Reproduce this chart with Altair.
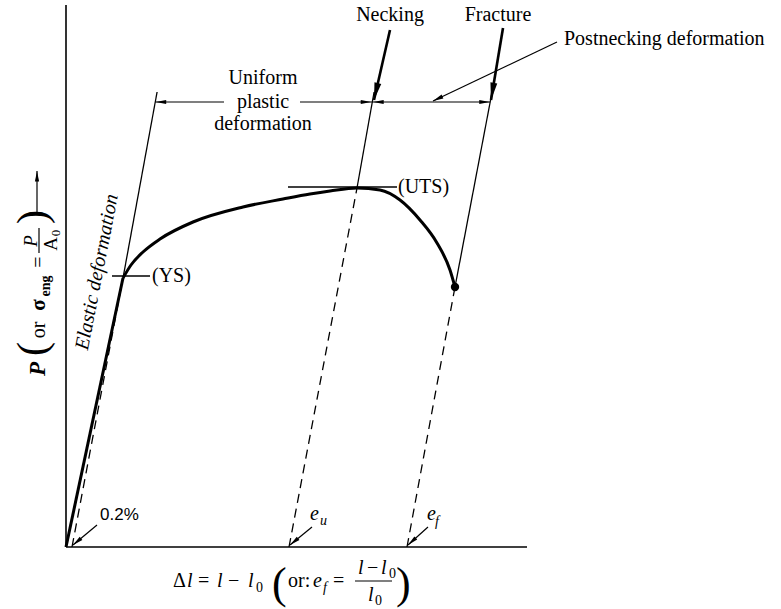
import math
import altair as alt
import pandas as pd

# ---------------------------------------------------------------------------
# Engineering load–elongation diagram, in diagram units
# (u: elongation to the right, v: load upward, origin where the axes meet)
# ---------------------------------------------------------------------------
elastic_u = [0, 57]
elastic_v = [0, 269]

curve_u = [57, 65, 77, 94, 127, 177, 217, 244, 264, 291, 314, 334, 354, 371, 384, 389]
curve_v = [269, 282, 295, 308, 325, 340, 348, 353, 356, 359, 357, 347, 327, 304, 277, 260]

# characteristic points: yield (YS), ultimate tensile strength (UTS), fracture
point_names = ["YS", "UTS", "Fracture"]
point_u = [57, 291, 389]
point_v = [269, 359, 260]

# permanent elongations read at zero load: 0.2 % offset, e_u, e_f
offset_names = ["0.2%", "e_u", "e_f"]
offset_u = [6, 223, 341]
unload_slope = 0.187          # elongation per unit load along elastic unloading lines

axis_top = 542
axis_right = 461
line_top = 455
bracket_v = 445

X = alt.X("u:Q", scale=alt.Scale(domain=[-66, 715], nice=False, zero=False), axis=None)
Y = alt.Y("v:Q", scale=alt.Scale(domain=[-62, 547], nice=False, zero=False), axis=None)


def unload_u(i, v):
    return offset_u[i] + unload_slope * v


def polyline_df(segs):
    rows = []
    for name, pts in segs.items():
        for k, (u, v) in enumerate(pts):
            rows.append({"seg": name, "u": u, "v": v, "ord": k})
    return pd.DataFrame(rows)


def lines(segs, width, dash=None, interp="linear"):
    kw = dict(color="black", strokeWidth=width, interpolate=interp, strokeCap="butt")
    if dash:
        kw["strokeDash"] = dash
    return alt.Chart(polyline_df(segs)).mark_line(**kw).encode(
        x=X, y=Y, detail="seg:N", order="ord:Q"
    )


HEAD = "M0,0L0.4,2L-0.4,2Z"


def heads(arrows, size):
    rows = []
    for su, sv, tu, tv in arrows:
        ang = math.degrees(math.atan2(tu - su, tv - sv)) % 360
        rows.append({"u": tu, "v": tv, "ang": ang})
    return alt.Chart(pd.DataFrame(rows)).mark_point(
        shape=HEAD, filled=True, color="black", opacity=1, size=size, strokeWidth=0
    ).encode(x=X, y=Y, angle=alt.Angle("ang:Q", scale=None))


def texts(rows, font="Liberation Serif", style="normal", weight="normal",
          align="left", baseline="alphabetic"):
    df = pd.DataFrame(rows, columns=["label", "u", "v", "size", "angle"])
    return alt.Chart(df).mark_text(
        font=font, fontStyle=style, fontWeight=weight, align=align,
        baseline=baseline, color="black"
    ).encode(
        x=X, y=Y, text="label:N",
        size=alt.Size("size:Q", scale=None),
        angle=alt.Angle("angle:Q", scale=None),
    )


# axes of the diagram
axes = lines({"yaxis": [(0, 0), (0, axis_top)], "xaxis": [(0, 0), (axis_right, 0)]}, 1.6)

# load–elongation curve
elastic = lines({"elastic": list(zip(elastic_u, elastic_v))}, 3)
plastic = lines({"plastic": list(zip(curve_u, curve_v))}, 3, interp="monotone")
fracture_dot = alt.Chart(
    pd.DataFrame({"u": [point_u[2]], "v": [point_v[2]]})
).mark_point(filled=True, color="black", opacity=1, size=70).encode(x=X, y=Y)

# elastic unloading lines: dashed below each characteristic point, solid above
dashed = lines(
    {offset_names[i]: [(offset_u[i], 0), (point_u[i], point_v[i])] for i in range(3)},
    1.3, dash=[9, 6],
)
solid = lines(
    {offset_names[i]: [(point_u[i], point_v[i]), (unload_u(i, line_top), line_top)] for i in range(3)},
    1.3,
)

# short level marks at YS and UTS
level_marks = lines(
    {"ys": [(46, point_v[0] + 2), (84, point_v[0] + 2)],
     "uts": [(222, point_v[1] + 1), (331, point_v[1] + 1)]},
    1.5,
)

# dimension brackets for uniform and post-necking deformation
b_left = unload_u(0, bracket_v)
b_mid = unload_u(1, bracket_v)
b_right = unload_u(2, bracket_v)
brackets = lines(
    {"uni_l": [(b_left, bracket_v), (158, bracket_v)],
     "uni_r": [(234, bracket_v), (b_mid, bracket_v)],
     "post": [(b_mid, bracket_v), (b_right, bracket_v)]},
    1.2,
)
bracket_heads = [
    (b_left + 20, bracket_v, b_left + 0.5, bracket_v),
    (b_mid - 20, bracket_v, b_mid - 1, bracket_v),
    (b_mid + 20, bracket_v, b_mid + 1, bracket_v),
    (b_right - 20, bracket_v, b_right - 0.5, bracket_v),
]

# labelled leader arrows (start u, start v, tip u, tip v)
bold_leaders = [(324, 517, 308, 447), (437, 519, 425, 447)]
thin_leaders = [
    (491, 505, 367, 446),   # post-necking deformation
    (31, 22, 7, 2),         # 0.2 %
    (246, 20, 224, 2),      # e_u
    (362, 20, 342, 2),      # e_f
    (-29, 335, -29, 376),   # load axis arrow
]


def shafts(arrows, width, name):
    return lines({f"{name}{k}": [(a[0], a[1]), (a[2], a[3])] for k, a in enumerate(arrows)}, width)


leader_bold = shafts(bold_leaders, 2.6, "b")
leader_thin = shafts(thin_leaders, 1.2, "t")
heads_bold = heads(bold_leaders, 300)
heads_thin = heads(thin_leaders + bracket_heads, 110)

# fraction bars of the axis titles
frac_bars = lines({"xfrac": [(289, -34), (326, -34)], "yfrac": [(-27, 294), (-27, 319)]}, 1.2)

# labels
labels_center = texts(
    [("Uniform", 197, 469, 20, 0), ("plastic", 197, 445, 20, 0),
     ("deformation", 197, 423, 20, 0), ("Necking", 324, 532, 20, 0),
     ("Fracture", 432, 532, 20, 0)],
    align="center", baseline="middle",
)
labels_left = texts(
    [("(YS)", 86, 271, 20, 0), ("(UTS)", 332, 360, 20, 0),
     ("Postnecking deformation", 498, 508, 20, 0)],
    baseline="middle",
)
label_elastic = texts(
    [("Elastic deformation", 31, 275, 20, 281)],
    style="italic", align="center", baseline="middle",
)
label_offset = texts([("0.2%", 34, 32, 17, 0)], font="Liberation Sans", baseline="middle")

# elongation-axis title:  Δl = l − l0 (or: e_f = (l − l0)/l0)
x_roman = texts(
    [("Δ", 107, -40, 20, 0), ("=", 132, -40, 20, 0), ("−", 162, -40, 20, 0),
     ("(", 206, -51, 44, 0), ("or:", 222, -40, 20, 0), ("=", 267, -40, 20, 0),
     ("−", 301, -27, 20, 0), (")", 330, -51, 44, 0),
     ("0", 190, -45, 14, 0), ("0", 323, -31, 14, 0), ("0", 309, -58, 14, 0)]
)
x_italic = texts(
    [("l", 121, -40, 20, 0), ("l", 151, -40, 20, 0), ("l", 182, -40, 20, 0),
     ("e", 247, -40, 20, 0), ("f", 257, -45, 14, 0),
     ("l", 292, -27, 20, 0), ("l", 315, -27, 20, 0), ("l", 302, -54, 20, 0),
     ("e", 244, 27, 20, 0), ("u", 254, 22, 14, 0),
     ("e", 361, 27, 20, 0), ("f", 369, 21, 14, 0)],
    style="italic",
)

# load-axis title:  P (or σ_eng = P/A0) →
y_bold_italic = texts([("P", -21, 178, 23, 270)], style="italic", weight="bold", align="center")
y_bold = texts([("σ", -21, 242, 21, 270), ("eng", -16, 261, 14, 270)], weight="bold", align="center")
y_roman = texts(
    [("(", -20, 198, 42, 270), ("or", -21, 217, 20, 270), ("=", -21, 285, 20, 270),
     ("A", -9, 303, 19, 270), ("0", -6, 314, 13, 270), (")", -20, 330, 42, 270)],
    align="center",
)
y_italic = texts([("P", -29, 306, 19, 270)], style="italic", align="center")

chart = alt.layer(
    axes, dashed, solid, level_marks, brackets, elastic, plastic, fracture_dot,
    leader_bold, leader_thin, heads_bold, heads_thin, frac_bars,
    labels_center, labels_left, label_elastic, label_offset,
    x_roman, x_italic, y_bold_italic, y_bold, y_roman, y_italic,
).properties(
    width=781, height=609, autosize=alt.AutoSizeParams(type="none"), padding=0,
    background="white",
).configure_view(stroke=None)

chart.save("out.html", embed_options={"renderer": "svg", "actions": False})
